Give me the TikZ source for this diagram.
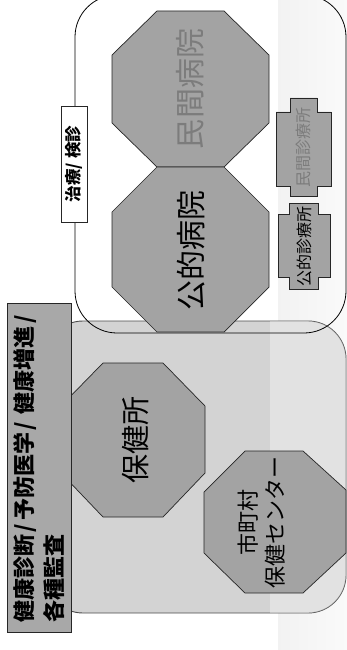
\documentclass[tikz,border=0pt]{standalone}
\usepackage{fontspec}
\setmainfont{Noto Sans CJK JP}
\definecolor{octfill}{HTML}{A3A3A3}
\definecolor{boxfill}{HTML}{D3D3D3}
\definecolor{lblfill}{HTML}{A8A8A8}
\definecolor{faint}{HTML}{7C7C7C}
\newcommand{\slsh}{\kern0.12em/\kern0.12em}
\tikzset{
  oct/.style={fill=octfill, draw=black!85, line width=0.7pt},
  lowbox/.style={fill=boxfill, draw=black!70, line width=0.9pt},
  upbox/.style={draw=black, line width=0.8pt},
  vtext/.style={rotate=90, inner sep=0pt},
  lbl/.style={rotate=90, draw=black!85, line width=0.8pt, inner sep=0pt, font=\bfseries},
}
\begin{document}
\begin{tikzpicture}[x=1pt,y=-1pt]
\useasboundingbox (0,0) rectangle (347,650);
% background band
\shade[left color=gray!10, right color=gray!4] (278,0) rectangle (347,650);
% lower box
\draw[lowbox, rounded corners=38] (45,321) rectangle (346,613);
\begin{scope}
  \clip[rounded corners=38] (45,321) rectangle (346,613);
  \shade[left color=white!0, right color=white, opacity=0.35] (270,300) rectangle (350,650);
\end{scope}
% upper box border
\draw[upbox, rounded corners=42] (75,-5) rectangle (346,333);
% octagons
\filldraw[oct] (157,11) -- (224,11) -- (269,55) -- (269,123) -- (224,167) -- (157,167) -- (112,123) -- (112,55) -- cycle;
\filldraw[oct] (157,167) -- (224,167) -- (269,212) -- (269,287) -- (224,332) -- (157,332) -- (112,287) -- (112,212) -- cycle;
\filldraw[oct] (103,363) -- (163,363) -- (205,406) -- (205,473) -- (163,517) -- (103,517) -- (61,473) -- (61,406) -- cycle;
\filldraw[oct] (245,451) -- (303,451) -- (346,490) -- (346,553) -- (303,593) -- (245,593) -- (204,553) -- (204,492) -- cycle;
% cross shapes
\filldraw[oct] (290,98) -- (317,98) -- (317,112) -- (331,112) -- (331,186) -- (317,186) -- (317,196) -- (290,196) -- (290,186) -- (276,186) -- (276,112) -- (290,112) -- cycle;
\filldraw[oct] (289,203) -- (318,203) -- (318,214) -- (330,214) -- (330,277) -- (318,277) -- (318,289) -- (289,289) -- (289,277) -- (278,277) -- (278,214) -- (289,214) -- cycle;
% texts
\node[vtext, text=faint, font=\fontsize{30}{36}\selectfont] (minkan) at (190,89) {民間病院};
\node[vtext, font=\fontsize{30}{36}\selectfont] (koteki) at (191,250) {公的病院};
\node[vtext, font=\fontsize{29}{34}\selectfont] (hokenjo) at (136,440) {保健所};
\node[vtext, align=center, font=\fontsize{22}{27}\selectfont] (shicho) at (262,522) {市町村\\保健センター};
\node[vtext, text=faint, font=\fontsize{16}{19}\selectfont] (minshin) at (303,147) {民間診療所};
\node[vtext, font=\fontsize{16}{19}\selectfont] (koshin) at (304,246) {公的診療所};
% labels
\node[lbl, fill=lblfill, minimum width=329pt, minimum height=64pt, align=left,
      font=\bfseries\fontsize{22}{30}\selectfont] (kenko) at (39,467.5)
  {健康診断\slsh 予防医学\slsh\ 健康増進\slsh\\各種監査};
\node[lbl, fill=white, minimum width=116pt, minimum height=26pt,
      font=\bfseries\fontsize{16.5}{19}\selectfont] (chiryo) at (74,164) {治療/ 検診};
\end{tikzpicture}
\end{document}
